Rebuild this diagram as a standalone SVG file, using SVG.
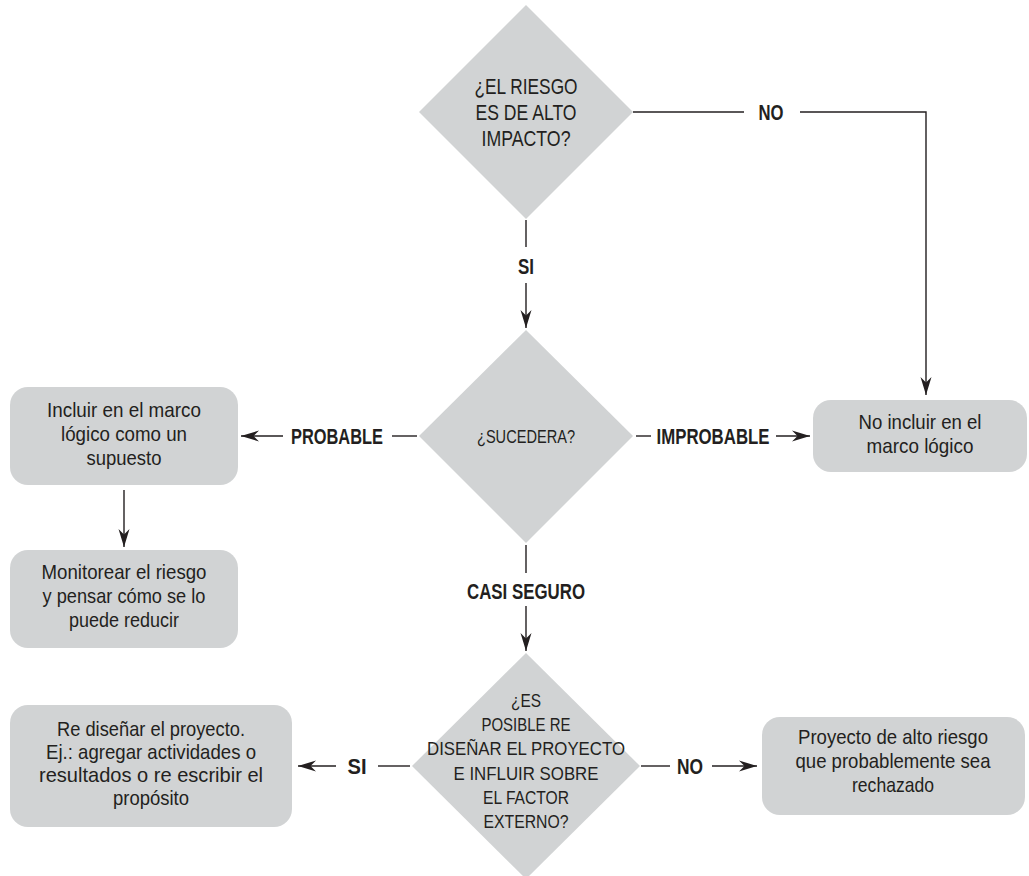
<svg xmlns="http://www.w3.org/2000/svg" width="1029" height="876" viewBox="0 0 1029 876">
  <style>
    .shape { fill: #d1d3d4; }
    .txt { font-family: "Liberation Sans", Arial, sans-serif; fill: #231f20; text-anchor: middle; }
    .box { font-size: 21px; }
    .q1 { font-size: 22px; }
    .q2 { font-size: 18px; }
    .q3 { font-size: 17.5px; }
    .lbl { font-size: 22px; font-weight: bold; }
    .wire { fill: none; stroke: #231f20; stroke-width: 1.4; }
  </style>
  <defs>
    <marker id="arrow" viewBox="-18 -6 18 12" refX="0" refY="0" markerWidth="18" markerHeight="12" markerUnits="userSpaceOnUse" orient="auto">
      <path d="M0,0 L-18,-5.5 L-12.5,0 L-18,5.5 Z" fill="#231f20"/>
    </marker>
  </defs>

  <!-- decision: high impact -->
  <g id="q-impacto">
    <polygon class="shape" points="526,5 633,112 526,219 419,112"/>
    <text class="txt q1" x="526" y="94" textLength="103" lengthAdjust="spacingAndGlyphs">¿EL RIESGO</text>
    <text class="txt q1" x="526" y="120" textLength="101" lengthAdjust="spacingAndGlyphs">ES DE ALTO</text>
    <text class="txt q1" x="526" y="146" textLength="89" lengthAdjust="spacingAndGlyphs">IMPACTO?</text>
  </g>

  <!-- decision: will it happen -->
  <g id="q-sucedera">
    <polygon class="shape" points="526,330 633,436 526,543 419,436"/>
    <text class="txt q2" x="526" y="443" textLength="98" lengthAdjust="spacingAndGlyphs">¿SUCEDERA?</text>
  </g>

  <!-- decision: redesign possible -->
  <g id="q-redisenar">
    <polygon class="shape" points="526,653 640,766 526,879 412,766"/>
    <text class="txt q3" x="526" y="707" textLength="30" lengthAdjust="spacingAndGlyphs">¿ES</text>
    <text class="txt q3" x="526" y="731" textLength="89" lengthAdjust="spacingAndGlyphs">POSIBLE RE</text>
    <text class="txt q3" x="526" y="755" textLength="198" lengthAdjust="spacingAndGlyphs">DISEÑAR EL PROYECTO</text>
    <text class="txt q3" x="526" y="780" textLength="145" lengthAdjust="spacingAndGlyphs">E INFLUIR SOBRE</text>
    <text class="txt q3" x="526" y="804" textLength="86" lengthAdjust="spacingAndGlyphs">EL FACTOR</text>
    <text class="txt q3" x="526" y="828" textLength="85" lengthAdjust="spacingAndGlyphs">EXTERNO?</text>
  </g>

  <g id="b-incluir">
    <rect class="shape" x="10" y="387" width="228" height="98" rx="18"/>
    <text class="txt box" x="124" y="417" textLength="154" lengthAdjust="spacingAndGlyphs">Incluir en el marco</text>
    <text class="txt box" x="124" y="441" textLength="126" lengthAdjust="spacingAndGlyphs">lógico como un</text>
    <text class="txt box" x="124" y="465" textLength="75" lengthAdjust="spacingAndGlyphs">supuesto</text>
  </g>

  <g id="b-monitorear">
    <rect class="shape" x="10" y="550" width="228" height="98" rx="18"/>
    <text class="txt box" x="124" y="579" textLength="165" lengthAdjust="spacingAndGlyphs">Monitorear el riesgo</text>
    <text class="txt box" x="124" y="603" textLength="163" lengthAdjust="spacingAndGlyphs">y pensar cómo se lo</text>
    <text class="txt box" x="124" y="627" textLength="110" lengthAdjust="spacingAndGlyphs">puede reducir</text>
  </g>

  <g id="b-no-incluir">
    <rect class="shape" x="813" y="400" width="214" height="72" rx="18"/>
    <text class="txt box" x="920" y="429" textLength="123" lengthAdjust="spacingAndGlyphs">No incluir en el</text>
    <text class="txt box" x="920" y="453" textLength="107" lengthAdjust="spacingAndGlyphs">marco lógico</text>
  </g>

  <g id="b-redisenar">
    <rect class="shape" x="10" y="705" width="282" height="122" rx="18"/>
    <text class="txt box" x="151" y="736" textLength="188" lengthAdjust="spacingAndGlyphs">Re diseñar el proyecto.</text>
    <text class="txt box" x="151" y="759" textLength="210" lengthAdjust="spacingAndGlyphs">Ej.: agregar actividades o</text>
    <text class="txt box" x="151" y="782" textLength="224" lengthAdjust="spacingAndGlyphs">resultados o re escribir el</text>
    <text class="txt box" x="151" y="805" textLength="76" lengthAdjust="spacingAndGlyphs">propósito</text>
  </g>

  <g id="b-alto-riesgo">
    <rect class="shape" x="762" y="717" width="263" height="98" rx="18"/>
    <text class="txt box" x="893" y="744" textLength="190" lengthAdjust="spacingAndGlyphs">Proyecto de alto riesgo</text>
    <text class="txt box" x="893" y="768" textLength="195" lengthAdjust="spacingAndGlyphs">que probablemente sea</text>
    <text class="txt box" x="893" y="792" textLength="82" lengthAdjust="spacingAndGlyphs">rechazado</text>
  </g>

  <!-- connectors and their labels -->
  <g id="connectors">
    <!-- NO: high impact -> not included -->
    <path class="wire" d="M633,112 H744"/>
    <path class="wire" d="M800,112 H926 V395" marker-end="url(#arrow)"/>
    <text class="txt lbl" x="771" y="120" textLength="25" lengthAdjust="spacingAndGlyphs">NO</text>

    <!-- SI: high impact -> will it happen -->
    <path class="wire" d="M526,220 V247"/>
    <path class="wire" d="M526,283 V328" marker-end="url(#arrow)"/>
    <text class="txt lbl" x="526" y="274" textLength="16" lengthAdjust="spacingAndGlyphs">SI</text>

    <!-- PROBABLE -->
    <path class="wire" d="M417,436 H392"/>
    <path class="wire" d="M283,436 H241" marker-end="url(#arrow)"/>
    <text class="txt lbl" x="337" y="444" textLength="92" lengthAdjust="spacingAndGlyphs">PROBABLE</text>

    <!-- IMPROBABLE -->
    <path class="wire" d="M636,436 H651"/>
    <path class="wire" d="M776,436 H810" marker-end="url(#arrow)"/>
    <text class="txt lbl" x="713" y="444" textLength="113" lengthAdjust="spacingAndGlyphs">IMPROBABLE</text>

    <!-- include -> monitor -->
    <path class="wire" d="M124,490 V547" marker-end="url(#arrow)"/>

    <!-- CASI SEGURO -->
    <path class="wire" d="M526,545 V573"/>
    <path class="wire" d="M526,606 V651" marker-end="url(#arrow)"/>
    <text class="txt lbl" x="526" y="599" textLength="118" lengthAdjust="spacingAndGlyphs">CASI SEGURO</text>

    <!-- SI: redesign -->
    <path class="wire" d="M410,766 H378"/>
    <path class="wire" d="M336,766 H298" marker-end="url(#arrow)"/>
    <text class="txt lbl" x="357" y="774" textLength="19" lengthAdjust="spacingAndGlyphs">SI</text>

    <!-- NO: high risk project -->
    <path class="wire" d="M641,766 H670"/>
    <path class="wire" d="M712,766 H757" marker-end="url(#arrow)"/>
    <text class="txt lbl" x="690" y="774" textLength="26" lengthAdjust="spacingAndGlyphs">NO</text>
  </g>
</svg>
